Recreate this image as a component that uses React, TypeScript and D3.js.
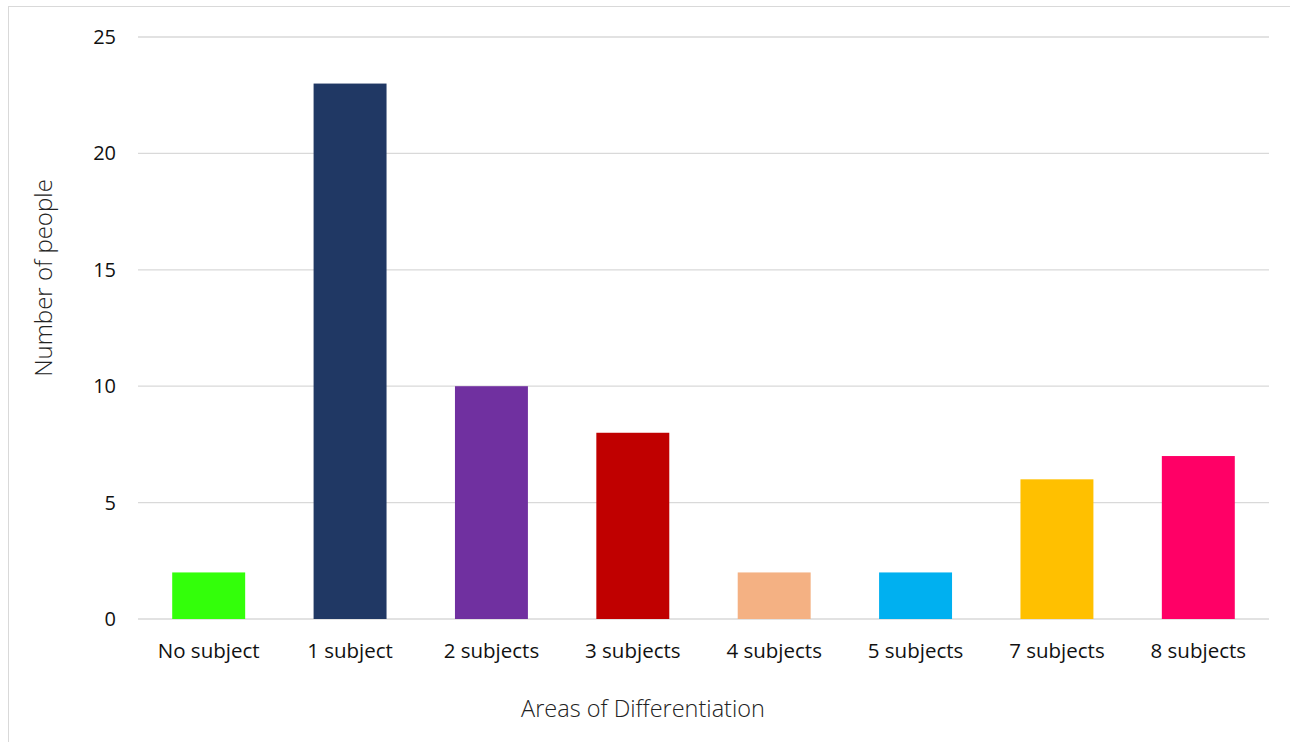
import React from "react";
import * as d3 from "d3";

const categories = ["No subject", "1 subject", "2 subjects", "3 subjects", "4 subjects", "5 subjects", "7 subjects", "8 subjects"];
const values = [2, 23, 10, 8, 2, 2, 6, 7];
const colors = ["#33FF0A", "#203864", "#7030A0", "#C00000", "#F4B183", "#00B0F0", "#FFC000", "#FF0066"];
const yTicks = [0, 5, 10, 15, 20, 25];

export default function App() {
  const W = 1290, H = 742;
  const left = 138, right = 1269, top = 37, bottom = 619;
  const x = d3.scaleBand<string>().domain(categories).range([left, right]).paddingInner(0.484).paddingOuter(0.242);
  const y = d3.scaleLinear().domain([0, 25]).range([bottom, top]);
  const font = "'Open Sans', 'Liberation Sans', sans-serif";
  return (
    <svg width={W} height={H} style={{ position: "absolute", left: 0, top: 0, background: "#fff" }}>
      <rect x={8.5} y={6.5} width={1300} height={760} fill="#fff" stroke="#d9d9d9" strokeWidth={1} />
      {yTicks.map((t) => (
        <g key={t}>
          <line x1={left} x2={right} y1={y(t)} y2={y(t)} stroke="#d9d9d9" strokeWidth={1.3} />
          <text x={116} y={y(t)} dy="0.35em" textAnchor="end" fontFamily={font} fontSize={20} fill="#111">{t}</text>
        </g>
      ))}
      {categories.map((c, i) => (
        <g key={c}>
          <rect x={x(c)} y={y(values[i])} width={x.bandwidth()} height={bottom - y(values[i])} fill={colors[i]} />
          <text x={(x(c) as number) + x.bandwidth() / 2} y={651} dy="0.35em" textAnchor="middle" fontFamily={font} fontSize={20.5} fill="#111">{c}</text>
        </g>
      ))}
      <text transform={`translate(44,${278}) rotate(-90)`} textAnchor="middle" dy="0.35em" fontFamily={font} fontWeight={300} fontSize={24} fill="#222">Number of people</text>
      <text x={643} y={709} dy="0.35em" textAnchor="middle" fontFamily={font} fontWeight={300} fontSize={23.5} fill="#222">Areas of Differentiation</text>
    </svg>
  );
}
